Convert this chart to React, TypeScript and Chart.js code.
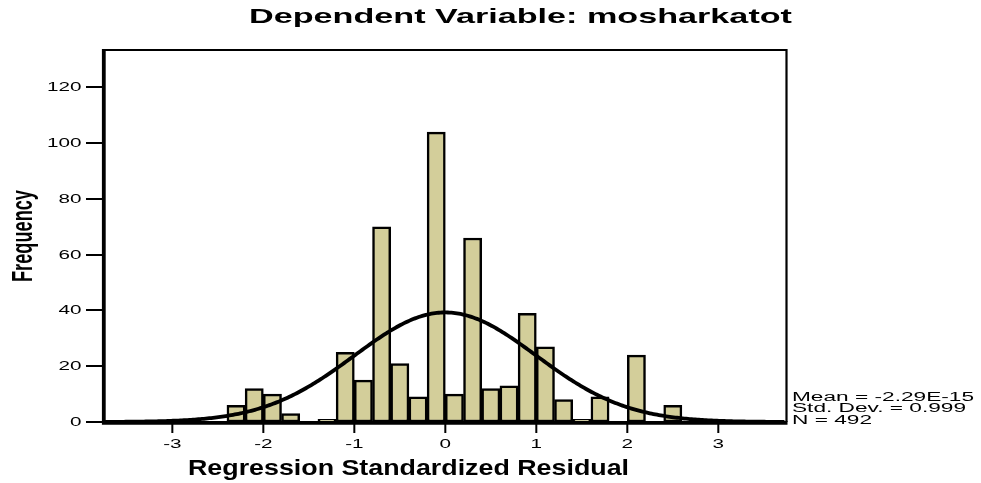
import React, { useEffect, useRef } from "react";
import { Chart, registerables } from "chart.js";

Chart.register(...registerables);

// ---- Data ----
const binCenters = [
  -2.3, -2.1, -1.9, -1.7, -1.5, -1.3, -1.1, -0.9, -0.7, -0.5, -0.3, -0.1,
  0.1, 0.3, 0.5, 0.7, 0.9, 1.1, 1.3, 1.5, 1.7, 1.9, 2.1, 2.3, 2.5,
];
const frequencies = [
  6, 12, 10, 3, 0, 1, 25, 15, 70, 21, 9, 104,
  10, 66, 12, 13, 39, 27, 8, 1, 9, 0, 24, 0, 6,
];
const xTicks = [-3, -2, -1, 0, 1, 2, 3];
const yTicks = [0, 20, 40, 60, 80, 100, 120];
const MEAN = -2.29e-15;
const STD_DEV = 0.999;
const N = 492;
const BIN_WIDTH = 0.2;
const TITLE = "Dependent Variable: mosharkatot";
const X_TITLE = "Regression Standardized Residual";
const Y_TITLE = "Frequency";
const statsLines = ["Mean = -2.29E-15", "Std. Dev. = 0.999", "N = 492"];

const X_MIN = -3.773;
const X_MAX = 3.744;
const Y_MAX = 133.45;

// fitted normal curve (expected counts per bin) from the stated Mean / Std. Dev. / N
const curvePoints: { x: number; y: number }[] = [];
for (let x = X_MIN; x <= X_MAX + 1e-9; x += 0.02) {
  const z = (x - MEAN) / STD_DEV;
  const y = (N * BIN_WIDTH * Math.exp(-0.5 * z * z)) / (STD_DEV * Math.sqrt(2 * Math.PI));
  curvePoints.push({ x, y });
}

const FONT = "Arial, 'Liberation Sans', sans-serif";

function drawFit(
  ctx: CanvasRenderingContext2D,
  text: string,
  x: number,
  y: number,
  font: string,
  targetW: number,
  align: CanvasTextAlign,
  baseline: CanvasTextBaseline
) {
  ctx.save();
  ctx.font = font;
  const w = ctx.measureText(text).width;
  const sx = targetW / w;
  ctx.translate(x, y);
  ctx.scale(sx, 1);
  ctx.textAlign = align;
  ctx.textBaseline = baseline;
  ctx.fillText(text, 0, 0);
  ctx.restore();
}

const spssPlugin = {
  id: "spssDecor",
  afterDraw(chart: any) {
    const ctx: CanvasRenderingContext2D = chart.ctx;
    const { left, right, top, bottom } = chart.chartArea;
    const xs = chart.scales.x;
    const ys = chart.scales.y;
    ctx.save();
    ctx.strokeStyle = "#000";
    ctx.fillStyle = "#000";

    // frame: top and right thinner
    ctx.lineWidth = 2.2;
    ctx.beginPath();
    ctx.moveTo(left, top);
    ctx.lineTo(right + 0.5, top);
    ctx.lineTo(right + 0.5, bottom);
    ctx.stroke();
    // left and bottom axes thicker
    ctx.lineWidth = 3.8;
    ctx.beginPath();
    ctx.moveTo(left + 1.8, top - 1);
    ctx.lineTo(left + 1.8, bottom + 0.8);
    ctx.lineTo(right + 1.5, bottom + 0.8);
    ctx.stroke();

    // y ticks
    const tickFont = `13.5px ${FONT}`;
    ctx.lineWidth = 2;
    ctx.font = tickFont;
    const sxTick = 34.5 / ctx.measureText("120").width;
    for (const v of yTicks) {
      const py = Math.round(ys.getPixelForValue(v));
      ctx.beginPath();
      ctx.moveTo(86, py);
      ctx.lineTo(left, py);
      ctx.stroke();
      ctx.save();
      ctx.font = tickFont;
      ctx.translate(81.5, py);
      ctx.scale(sxTick, 1);
      ctx.textAlign = "right";
      ctx.textBaseline = "middle";
      ctx.fillText(String(v), 0, 0.5);
      ctx.restore();
    }
    // x ticks
    for (const v of xTicks) {
      const px = xs.getPixelForValue(v);
      ctx.beginPath();
      ctx.moveTo(px, bottom + 1);
      ctx.lineTo(px, bottom + 11);
      ctx.stroke();
      ctx.save();
      ctx.font = tickFont;
      ctx.translate(px, 444.5);
      ctx.scale(sxTick, 1);
      ctx.textAlign = "center";
      ctx.textBaseline = "middle";
      ctx.fillText(String(v), 0, 0);
      ctx.restore();
    }

    // title
    drawFit(ctx, TITLE, 249, 22.7, `bold 21px ${FONT}`, 543, "left", "alphabetic");
    // x title
    drawFit(ctx, X_TITLE, 188, 474.9, `bold 22px ${FONT}`, 441, "left", "alphabetic");

    // y title (rotated, stretched across)
    ctx.save();
    ctx.font = `bold 20px ${FONT}`;
    const w20 = ctx.measureText(Y_TITLE).width;
    const fs = (20 * 92) / w20;
    ctx.font = `bold ${fs}px ${FONT}`;
    const m = ctx.measureText(Y_TITLE);
    const extent = (m.actualBoundingBoxAscent || fs * 0.72) + (m.actualBoundingBoxDescent || fs * 0.21);
    const stretch = 27 / extent;
    ctx.translate(31.7, 236);
    ctx.scale(stretch, 1);
    ctx.rotate(-Math.PI / 2);
    ctx.textAlign = "center";
    ctx.textBaseline = "alphabetic";
    ctx.fillText(Y_TITLE, 0, 0);
    ctx.restore();

    // stats
    const statFont = `12.5px ${FONT}`;
    ctx.font = statFont;
    const sxStats = 182 / ctx.measureText(statsLines[0]).width;
    const baselines = [401, 412.4, 424];
    statsLines.forEach((t, i) => {
      ctx.save();
      ctx.font = statFont;
      ctx.translate(792, baselines[i]);
      ctx.scale(sxStats, 1);
      ctx.textAlign = "left";
      ctx.textBaseline = "alphabetic";
      ctx.fillText(t, 0, 0);
      ctx.restore();
    });

    ctx.restore();
  },
};

export default function App() {
  const ref = useRef<HTMLCanvasElement | null>(null);
  useEffect(() => {
    if (!ref.current) return;
    const chart = new Chart(ref.current, {
      type: "bar",
      data: {
        datasets: [
          {
            type: "line",
            label: "Normal",
            data: curvePoints,
            borderColor: "#000",
            borderWidth: 3.8,
            pointRadius: 0,
            tension: 0,
            fill: false,
            order: 0,
          } as any,
          {
            type: "bar",
            label: "Frequency",
            data: binCenters.map((c, i) => ({ x: c, y: frequencies[i] })),
            backgroundColor: "#d3ce9a",
            borderColor: "#000",
            borderWidth: 2.5,
            borderSkipped: false,
            categoryPercentage: 1,
            barPercentage: 1,
            order: 1,
          } as any,
        ],
      },
      options: {
        responsive: false,
        animation: false,
        layout: { padding: { left: 102, right: 195, top: 50, bottom: 61 } },
        plugins: { legend: { display: false }, tooltip: { enabled: false }, title: { display: false } },
        scales: {
          x: { type: "linear", display: false, min: X_MIN, max: X_MAX, offset: false },
          y: { type: "linear", display: false, min: 0, max: Y_MAX },
        },
      },
      plugins: [spssPlugin],
    });
    return () => chart.destroy();
  }, []);
  return (
    <div style={{ position: "absolute", left: 0, top: 0, width: 981, height: 483, background: "#fff" }}>
      <canvas ref={ref} width={981} height={483} style={{ display: "block" }} />
    </div>
  );
}
